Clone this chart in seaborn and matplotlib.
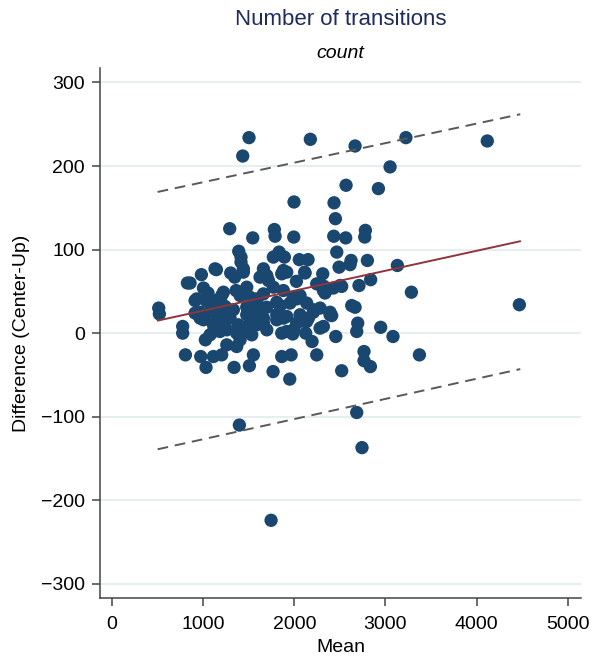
import matplotlib
matplotlib.use("Agg")
import matplotlib.pyplot as plt
import seaborn as sns
import pandas as pd

# Per-subject mean of the two methods and their difference (Center - Up)
mean_vals = [
    1503, 1434, 2176, 2667, 3225, 4118, 3051, 2568, 2923, 1997, 2436, 2451,
    1291, 1544, 1781, 1789, 1994, 2433, 2564, 2780, 2773, 2466, 1390, 1415,
    1415, 1833, 1770, 1891, 2055, 2151, 2118, 2312, 2491, 2623, 2612, 2802,
    3131, 2838, 2710, 2520, 2429, 2337, 2246, 2326, 3285, 2667, 2696, 2948,
    3083, 2455, 2195, 2246, 2765, 2765, 2835, 2520, 3373, 4470, 2410, 2283,
    1950, 1397, 2685, 2743, 1745,
    512, 519, 775, 775, 805, 827, 856, 980, 1145, 1302, 1346, 1441, 1661,
    1624, 1862, 2023, 2114, 2348, 1003, 1053, 1203, 911, 1039, 1123, 1240,
    1405, 1361, 1478, 1661, 1770, 1880, 2063, 2136, 911, 966, 1075, 1003,
    1222, 1331, 1478, 1588, 1698, 1844, 1953, 2210, 2283, 2392, 1185, 1295,
    1386, 1551, 1624, 1807, 1917, 2063, 2155, 1149, 1112, 1259, 1368, 1478,
    1588, 1661, 1807, 2026, 2136, 1024, 1075, 1259, 1368, 1405, 1533, 1862,
    1983, 2125, 973, 1031, 1112, 1203, 1339, 1507, 1551, 1767, 1862, 1965,
    1716, 1588, 1990, 1514, 1880, 2319, 2502, 2630, 2026, 2209, 2392, 2118,
    2319, 1990, 2685, 1130, 1441, 1698, 1917, 1222, 1405, 1588, 1807, 1149,
    1478, 1661, 1880, 1185, 1441, 1698, 1917, 929, 1149, 966, 1112,
]
diff_vals = [
    234, 212, 232, 224, 234, 230, 199, 177, 173, 157, 156, 137,
    125, 114, 124, 116, 115, 116, 114, 123, 115, 97, 98, 91,
    85, 97, 91, 91, 88, 88, 72, 71, 79, 87, 82, 87,
    81, 64, 57, 56, 54, 48, 59, 56, 49, 31, 12, 7,
    -4, -4, -10, -26, -22, -33, -40, -45, -26, 34, 21, 6,
    -55, -110, -95, -137, -224,
    30, 23, 8, 0, -26, 60, 60, 70, 76, 72, 67, 73, 77,
    67, 71, 62, 73, 51, 54, 48, 45, 39, 38, 39, 32,
    47, 51, 55, 47, 55, 51, 45, 36, 24, 18, 25, 16,
    22, 28, 31, 28, 31, 33, 36, 28, 30, 22, 14, 18,
    10, 16, 20, 22, 20, 22, 18, 8, 2, 4, 0, 8,
    10, 12, 16, 12, 14, -8, -2, -14, -16, -8, -2, 0,
    -1, 0, -28, -41, -28, -26, -41, -39, -26, -46, -28, -26,
    63, 39, 43, 43, 75, 51, 57, 33, 41, 25, 25, 14,
    8, 4, 2, 77, 77, 69, 73, 49, 45, 41, 37, 22,
    22, 18, 18, 2, 2, 4, 2, 41, 33, 25, 10,
]

# Fitted bias line and limits of agreement, evaluated at the ends of the mean range
line_x = [500, 4480]
bias_line = [15, 110]
upper_loa = [169, 262]
lower_loa = [-139, -43]

x_ticks = [0, 1000, 2000, 3000, 4000, 5000]
y_ticks = [-300, -200, -100, 0, 100, 200, 300]

df = pd.DataFrame({"Mean": mean_vals, "Difference": diff_vals})

sns.set_theme(style="white")
plt.rcParams["font.family"] = ["Liberation Sans", "DejaVu Sans"]

fig = plt.figure(figsize=(5.92, 6.56), dpi=100)
ax = fig.add_axes([0.169, 0.0884, 0.8125, 0.8075])

for yt in y_ticks:
    ax.axhline(yt, color="#e6eef0", lw=1.5, zorder=0)

sns.scatterplot(data=df, x="Mean", y="Difference", ax=ax, s=92,
                color="#1a476f", edgecolor="none", linewidth=0, zorder=2,
                legend=False)

ax.plot(line_x, bias_line, color="#90353b", lw=1.4, zorder=3)
ax.plot(line_x, upper_loa, color="#595959", lw=1.4, ls=(0, (5.5, 3.5)), zorder=3)
ax.plot(line_x, lower_loa, color="#595959", lw=1.4, ls=(0, (5.5, 3.5)), zorder=3)

ax.set_xlim(-132, 5147)
ax.set_ylim(-317, 317)
ax.set_xticks(x_ticks)
ax.set_yticks(y_ticks)
ax.set_xticklabels([str(v) for v in x_ticks])
ax.set_yticklabels([str(v).replace("-", "\u2212") for v in y_ticks])

for side in ("top", "right"):
    ax.spines[side].set_visible(False)
for side in ("left", "bottom"):
    ax.spines[side].set_color("#444444")
    ax.spines[side].set_linewidth(1.1)

ax.tick_params(axis="both", which="major", direction="out", length=6,
               width=1.1, color="#444444", labelsize=14, labelcolor="black",
               pad=5, left=True, bottom=True)
ax.tick_params(axis="x", pad=7)

ax.set_xlabel("Mean", fontsize=14, color="black", labelpad=4)
ax.set_ylabel("Difference (Center-Up)", fontsize=14, color="black", labelpad=8)

fig.text(0.575, 0.971, "Number of transitions", ha="center", va="center",
         fontsize=16, color="#1e2b5c")
fig.text(0.575, 0.918, "count", ha="center", va="center", fontsize=14,
         style="italic", color="black")

fig.savefig("out.png", dpi=100)
